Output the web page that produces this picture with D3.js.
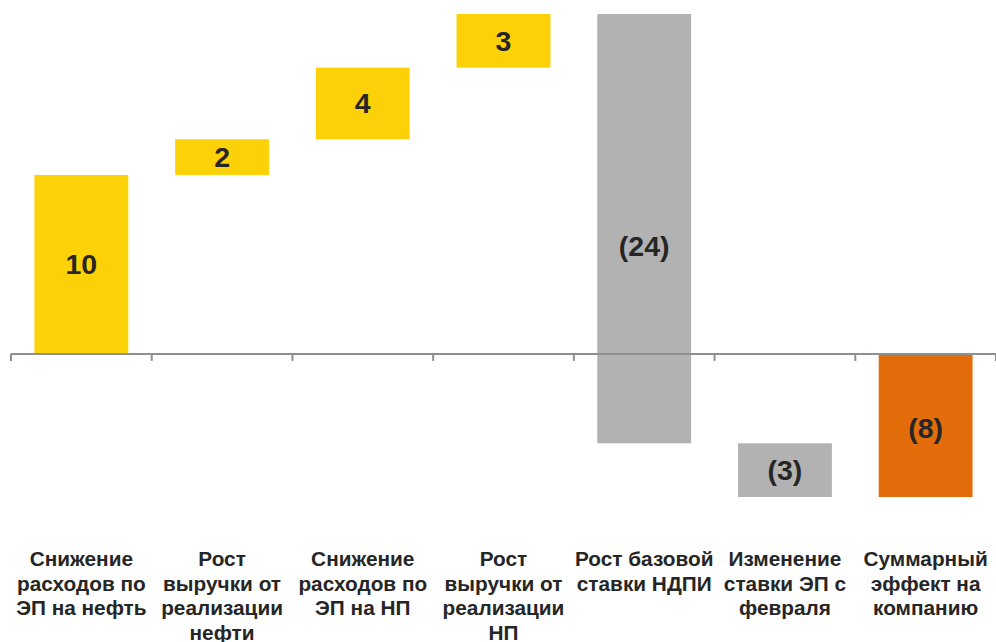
<!DOCTYPE html>
<html>
<head>
<meta charset="utf-8">
<script src="https://cdn.jsdelivr.net/npm/d3@7"></script>
<style>
  body { margin: 0; background: #fff; }
  svg { display: block; }
</style>
</head>
<body>
<script>
const w = 996;
const h = 642;

// data
const categories = [
  ["Снижение", "расходов по", "ЭП на нефть"],
  ["Рост", "выручки от", "реализации", "нефти"],
  ["Снижение", "расходов по", "ЭП на НП"],
  ["Рост", "выручки от", "реализации", "НП"],
  ["Рост базовой", "ставки НДПИ"],
  ["Изменение", "ставки ЭП с", "февраля"],
  ["Суммарный", "эффект на", "компанию"]
];
const deltas = [10, 2, 4, 3, -24, -3];
const total = -8;
const kinds = ["up", "up", "up", "up", "down", "down", "total"];
const colors = { up: "#FDD108", down: "#B2B2B2", total: "#E36C0A" };

// build waterfall steps
var steps = [];
var run = 0;
deltas.forEach(function(d, i) {
  steps.push({ i: i, start: run, end: run + d, value: d, kind: kinds[i] });
  run += d;
});
steps.push({ i: 6, start: 0, end: total, value: total, kind: "total" });

var x = d3.scaleBand()
  .domain(d3.range(categories.length))
  .range([11, 996])
  .paddingInner(0.333)
  .paddingOuter(0.1665);

var y = d3.scaleLinear()
  .domain([-8, 19])
  .range([497, 14]);

var svg = d3.select("body").append("svg")
  .attr("width", w)
  .attr("height", h);

svg.append("g").selectAll("rect")
  .data(steps)
  .enter()
  .append("rect")
  .attr("x", d => x(d.i))
  .attr("width", x.bandwidth())
  .attr("y", d => y(Math.max(d.start, d.end)))
  .attr("height", d => Math.abs(y(d.start) - y(d.end)))
  .style("fill", d => colors[d.kind]);

// axis line and ticks at band boundaries
var gap = (x.step() - x.bandwidth()) / 2;
var bounds = d3.range(categories.length).map(i => x(i) - gap);
bounds.push(x(categories.length - 1) + x.bandwidth() + gap);

var axis = svg.append("g");
axis.append("line")
  .attr("x1", bounds[0]).attr("x2", w)
  .attr("y1", y(0)).attr("y2", y(0))
  .style("stroke", "#8E9090")
  .style("stroke-width", 2);
axis.selectAll("line.tick")
  .data(bounds)
  .enter()
  .append("line")
  .attr("class", "tick")
  .attr("x1", d => d).attr("x2", d => d)
  .attr("y1", y(0)).attr("y2", y(0) + 7)
  .style("stroke", "#8E9090")
  .style("stroke-width", 2);

// value labels
function fmt(v) { return v < 0 ? "(" + Math.abs(v) + ")" : String(v); }

svg.append("g").selectAll("text")
  .data(steps)
  .enter()
  .append("text")
  .attr("x", d => x(d.i) + x.bandwidth() / 2)
  .attr("y", d => (y(d.start) + y(d.end)) / 2 + (d.i === 4 ? 17 : 0) + (d.i === 6 ? 3 : 0))
  .attr("text-anchor", "middle")
  .attr("dominant-baseline", "central")
  .style("font-family", "Liberation Sans, Arial, sans-serif")
  .style("font-weight", "bold")
  .style("font-size", "28.5px")
  .style("fill", "#262626")
  .text(d => fmt(d.value));

// category labels
var labels = svg.append("g").selectAll("text")
  .data(categories)
  .enter()
  .append("text")
  .attr("text-anchor", "middle")
  .style("font-family", "Liberation Sans, Arial, sans-serif")
  .style("font-weight", "bold")
  .style("font-size", "20.8px")
  .style("fill", "#262626");

labels.each(function(lines, i) {
  var t = d3.select(this);
  lines.forEach(function(line, j) {
    t.append("tspan")
      .attr("x", x(i) + x.bandwidth() / 2)
      .attr("y", 566 + j * 24.5)
      .text(line);
  });
});
</script>
</body>
</html>
